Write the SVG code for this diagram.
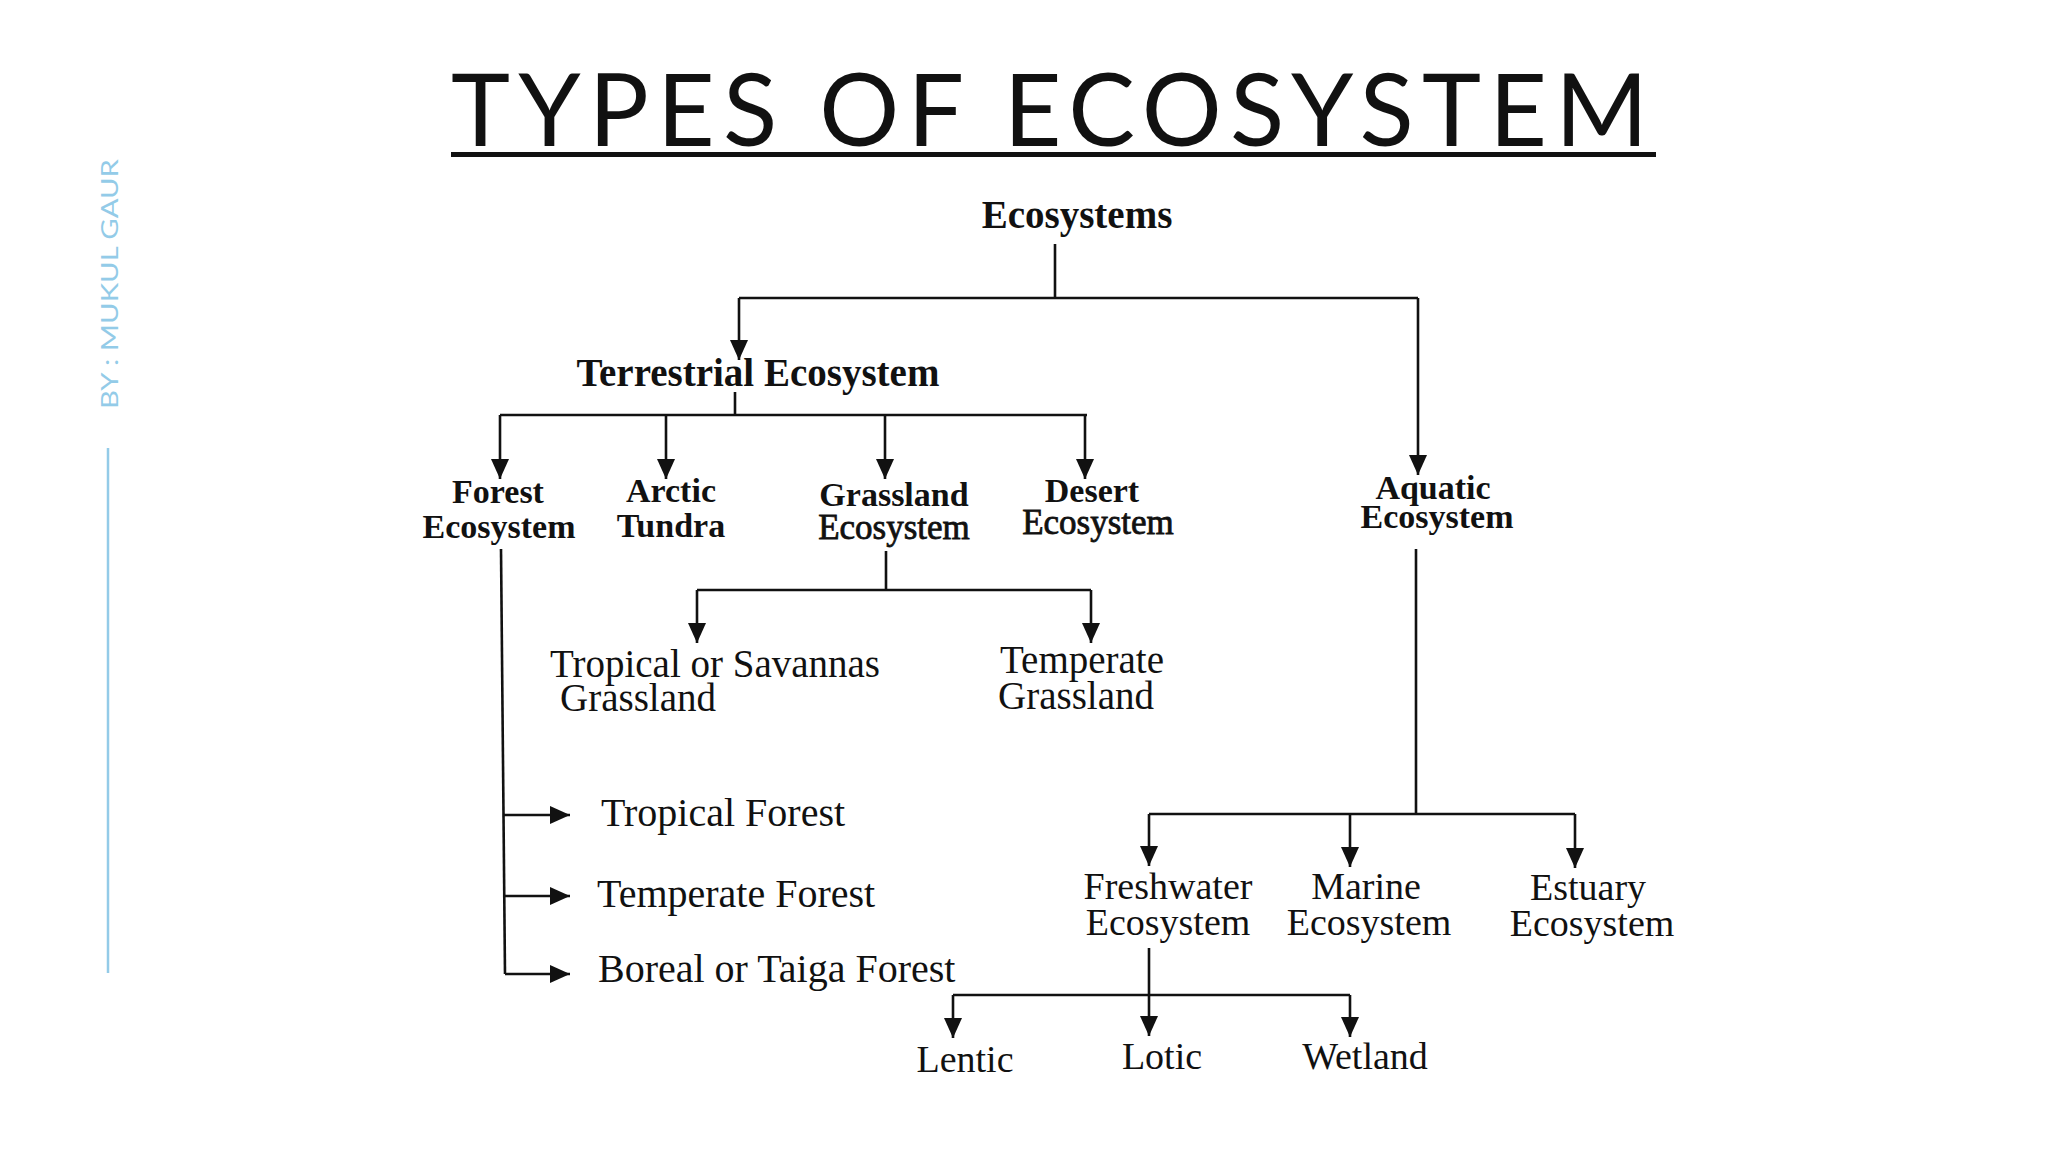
<svg xmlns="http://www.w3.org/2000/svg" width="2048" height="1152" viewBox="0 0 2048 1152">
  <style>
    .title { font-family: Lato, "Open Sans", sans-serif; font-size: 100px; fill: #111; }
    .author { font-family: Lato, "Open Sans", sans-serif; font-size: 23px; fill: #93cbe8; }
    .b1 { font-family: "Liberation Serif", "Times New Roman", serif; font-weight: bold; font-size: 39px; fill: #111; text-anchor: middle; }
    .b2 { font-family: "Liberation Serif", "Times New Roman", serif; font-weight: bold; font-size: 34px; fill: #111; text-anchor: middle; }
    .m2 { font-family: "Liberation Serif", "Times New Roman", serif; font-size: 35px; fill: #111; stroke: #111; stroke-width: 0.8; text-anchor: middle; }
    .r3 { font-family: "Liberation Serif", "Times New Roman", serif; font-size: 38px; fill: #111; text-anchor: middle; }
    .r3g { font-family: "Liberation Serif", "Times New Roman", serif; font-size: 39px; fill: #111; }
    .r3f { font-family: "Liberation Serif", "Times New Roman", serif; font-size: 40px; fill: #111; }
    .conn { fill: none; stroke: #111; stroke-width: 2.6; }
    .arr { fill: none; stroke: #111; stroke-width: 2.6; marker-end: url(#ah); }
  </style>
  <defs>
    <marker id="ah" markerUnits="userSpaceOnUse" markerWidth="22" markerHeight="20" refX="20" refY="9" orient="auto">
      <path d="M0,0 L20,9 L0,18 Z" fill="#111"/>
    </marker>
  </defs>
  <rect width="2048" height="1152" fill="#ffffff"/>

  <g id="header">
    <text class="title" x="451" y="146" textLength="1197" lengthAdjust="spacing">TYPES OF ECOSYSTEM</text>
    <rect x="451" y="152" width="1205" height="5" fill="#111"/>
  </g>

  <g id="author">
    <text class="author" transform="translate(118,409) rotate(-90)" x="0" y="0" textLength="250" lengthAdjust="spacingAndGlyphs">BY : MUKUL GAUR</text>
    <line x1="108" y1="448" x2="108" y2="973" stroke="#93cbe8" stroke-width="2.5"/>
  </g>

  <g id="connectors">
    <!-- Ecosystems -->
    <path class="conn" d="M1055,244 V298 M739,298 H1418"/>
    <path class="arr" d="M739,298 V360"/>
    <path class="arr" d="M1418,298 V475"/>
    <!-- Terrestrial -->
    <path class="conn" d="M735,392 V415 M500,415 H1087"/>
    <path class="arr" d="M500,415 V479"/>
    <path class="arr" d="M666,415 V479"/>
    <path class="arr" d="M885,415 V479"/>
    <path class="arr" d="M1085,415 V479"/>
    <!-- Grassland -->
    <path class="conn" d="M886,551 V590 M697,590 H1091"/>
    <path class="arr" d="M697,590 V643"/>
    <path class="arr" d="M1091,590 V643"/>
    <!-- Forest -->
    <path class="conn" d="M501,549 L505,974"/>
    <path class="arr" d="M503,815 H570"/>
    <path class="arr" d="M504,896 H570"/>
    <path class="arr" d="M505,974 H570"/>
    <!-- Aquatic -->
    <path class="conn" d="M1416,549 V814 M1149,814 H1575"/>
    <path class="arr" d="M1149,814 V866"/>
    <path class="arr" d="M1350,814 V867"/>
    <path class="arr" d="M1575,814 V868"/>
    <!-- Freshwater -->
    <path class="conn" d="M1149,948 V995 M953,995 H1350"/>
    <path class="arr" d="M953,995 V1038"/>
    <path class="arr" d="M1149,995 V1036"/>
    <path class="arr" d="M1350,995 V1037"/>
  </g>

  <g id="n-ecosystems"><text class="b1" x="1077" y="228">Ecosystems</text></g>
  <g id="n-terrestrial"><text class="b1" x="758" y="386">Terrestrial Ecosystem</text></g>
  <g id="n-forest"><text class="b2" x="498" y="503">Forest</text><text class="b2" x="499" y="538">Ecosystem</text></g>
  <g id="n-arctic"><text class="b2" x="671" y="502">Arctic</text><text class="b2" x="671" y="537">Tundra</text></g>
  <g id="n-grassland"><text class="b2" x="894" y="506">Grassland</text><text class="m2" x="894" y="539">Ecosystem</text></g>
  <g id="n-desert"><text class="b2" x="1092" y="502">Desert</text><text class="m2" x="1098" y="534">Ecosystem</text></g>
  <g id="n-aquatic"><text class="b2" x="1433" y="499">Aquatic</text><text class="b2" x="1437" y="528">Ecosystem</text></g>

  <g id="n-tropical-grassland"><text class="r3g" x="550" y="677">Tropical or Savannas</text><text class="r3g" x="560" y="711">Grassland</text></g>
  <g id="n-temperate-grassland"><text class="r3g" x="1000" y="673">Temperate</text><text class="r3g" x="998" y="709">Grassland</text></g>

  <g id="n-tropical-forest"><text class="r3f" x="601" y="826">Tropical Forest</text></g>
  <g id="n-temperate-forest"><text class="r3f" x="597" y="907">Temperate Forest</text></g>
  <g id="n-boreal-forest"><text class="r3f" x="598" y="982">Boreal or Taiga Forest</text></g>

  <g id="n-freshwater"><text class="r3" x="1168" y="899">Freshwater</text><text class="r3" x="1168" y="935">Ecosystem</text></g>
  <g id="n-marine"><text class="r3" x="1366" y="899">Marine</text><text class="r3" x="1369" y="935">Ecosystem</text></g>
  <g id="n-estuary"><text class="r3" x="1588" y="900">Estuary</text><text class="r3" x="1592" y="936">Ecosystem</text></g>

  <g id="n-lentic"><text class="r3" x="965" y="1072">Lentic</text></g>
  <g id="n-lotic"><text class="r3" x="1162" y="1069">Lotic</text></g>
  <g id="n-wetland"><text class="r3" x="1365" y="1069">Wetland</text></g>
</svg>
